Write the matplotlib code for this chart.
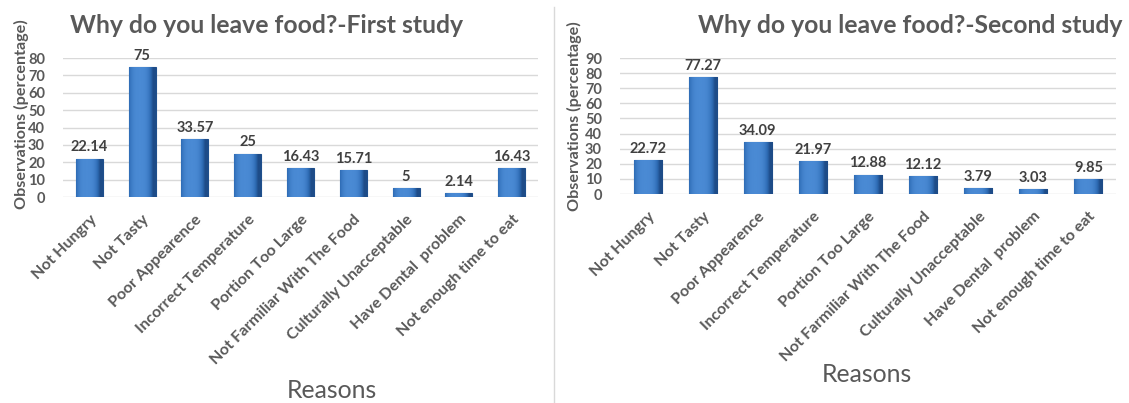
import numpy as np
import matplotlib
matplotlib.use('Agg')
import matplotlib.pyplot as plt
from matplotlib.lines import Line2D
from matplotlib.colors import LinearSegmentedColormap

plt.rcParams['font.family'] = ['Lato', 'DejaVu Sans']

# dados
reasons = ['Not Hungry', 'Not Tasty', 'Poor Appearence', 'Incorrect Temperature',
           'Portion Too Large', 'Not Farmiliar With The Food', 'Culturally Unacceptable',
           'Have Dental  problem', 'Not enough time to eat']
first_study = [22.14, 75, 33.57, 25, 16.43, 15.71, 5, 2.14, 16.43]
second_study = [22.72, 77.27, 34.09, 21.97, 12.88, 12.12, 3.79, 3.03, 9.85]
first_labels = ['22.14', '75', '33.57', '25', '16.43', '15.71', '5', '2.14', '16.43']
second_labels = ['22.72', '77.27', '34.09', '21.97', '12.88', '12.12', '3.79', '3.03', '9.85']

W, H = 1129, 403
fig = plt.figure(figsize=(W / 100, H / 100), dpi=100)

cinza = '#595959'
borda = '#1F4F8C'
degrade = LinearSegmentedColormap.from_list('azul', ['#1E4C88', '#2F6DB6', '#4A8AD4'])

# perfil horizontal do degrade (efeito "cilindro" das barras do Excel)
g = np.linspace(0, 1, 64)
perfil = np.clip(1 - np.abs(2 * g - 0.8) ** 3, 0, 1)


def painel(rect, valores, rotulos, ymax, titulo, tit_xy, rea_xy, ylab_xy):
    ax = fig.add_axes(rect)
    x = np.arange(len(reasons))
    barras = ax.bar(x, valores, width=0.51, color='#2F6DB6', edgecolor=borda,
                    linewidth=0.8, zorder=3)
    for b in barras:
        x0, w, h = b.get_x(), b.get_width(), b.get_height()
        im = ax.imshow(perfil[None, :], extent=[x0, x0 + w, 0, h], cmap=degrade,
                       vmin=0, vmax=1, aspect='auto', zorder=3.5)
        im.set_clip_path(b)
    for xi, v, t in zip(x, valores, rotulos):
        ax.text(xi, v + ymax * 0.03, t, ha='center', va='bottom', fontsize=10.5,
                fontweight='bold', color='#404040', clip_on=False)
    ax.set_xlim(-0.5, len(reasons) - 0.5)
    ax.set_ylim(0, ymax)
    ax.set_yticks(np.arange(0, ymax + 1, 10))
    ax.grid(axis='y', color='#D9D9D9', linewidth=1.0, zorder=0)
    for s in ax.spines.values():
        s.set_visible(False)
    ax.tick_params(axis='both', length=0, colors=cinza)
    ax.tick_params(axis='y', pad=13, labelsize=10.5)
    for lb in ax.get_yticklabels():
        lb.set_fontweight('bold')
    ax.set_xticks(x)
    ax.set_xticklabels(reasons, rotation=45, ha='right', va='top', rotation_mode='anchor',
                       fontsize=11.5, fontweight='bold', color=cinza)
    ax.tick_params(axis='x', pad=11)
    fig.text(tit_xy[0] / W, 1 - tit_xy[1] / H, titulo, ha='center', va='baseline',
             fontsize=17.8, fontweight='bold', color=cinza)
    fig.text(rea_xy[0] / W, 1 - rea_xy[1] / H, 'Reasons', ha='center', va='center',
             fontsize=17.8, color=cinza)
    fig.text(ylab_xy[0] / W, 1 - ylab_xy[1] / H, 'Observations (percentage)', ha='center',
             va='center', rotation=90, fontsize=11.6, fontweight='bold', color=cinza)
    return ax


painel([63 / W, 1 - 197 / H, 475 / W, 139 / H], first_study, first_labels, 80,
       'Why do you leave food?-First study', (267, 33), (332, 391), (21, 114))
painel([620 / W, 1 - 194 / H, 496 / W, 136 / H], second_study, second_labels, 90,
       'Why do you leave food?-Second study', (910, 33), (867, 374), (574, 116))

# linha divisoria
fig.add_artist(Line2D([554 / W, 554 / W], [0, 1 - 7 / H], transform=fig.transFigure,
                      color='#D9D9D9', linewidth=1))

fig.savefig('out.png', dpi=100, facecolor='white')
